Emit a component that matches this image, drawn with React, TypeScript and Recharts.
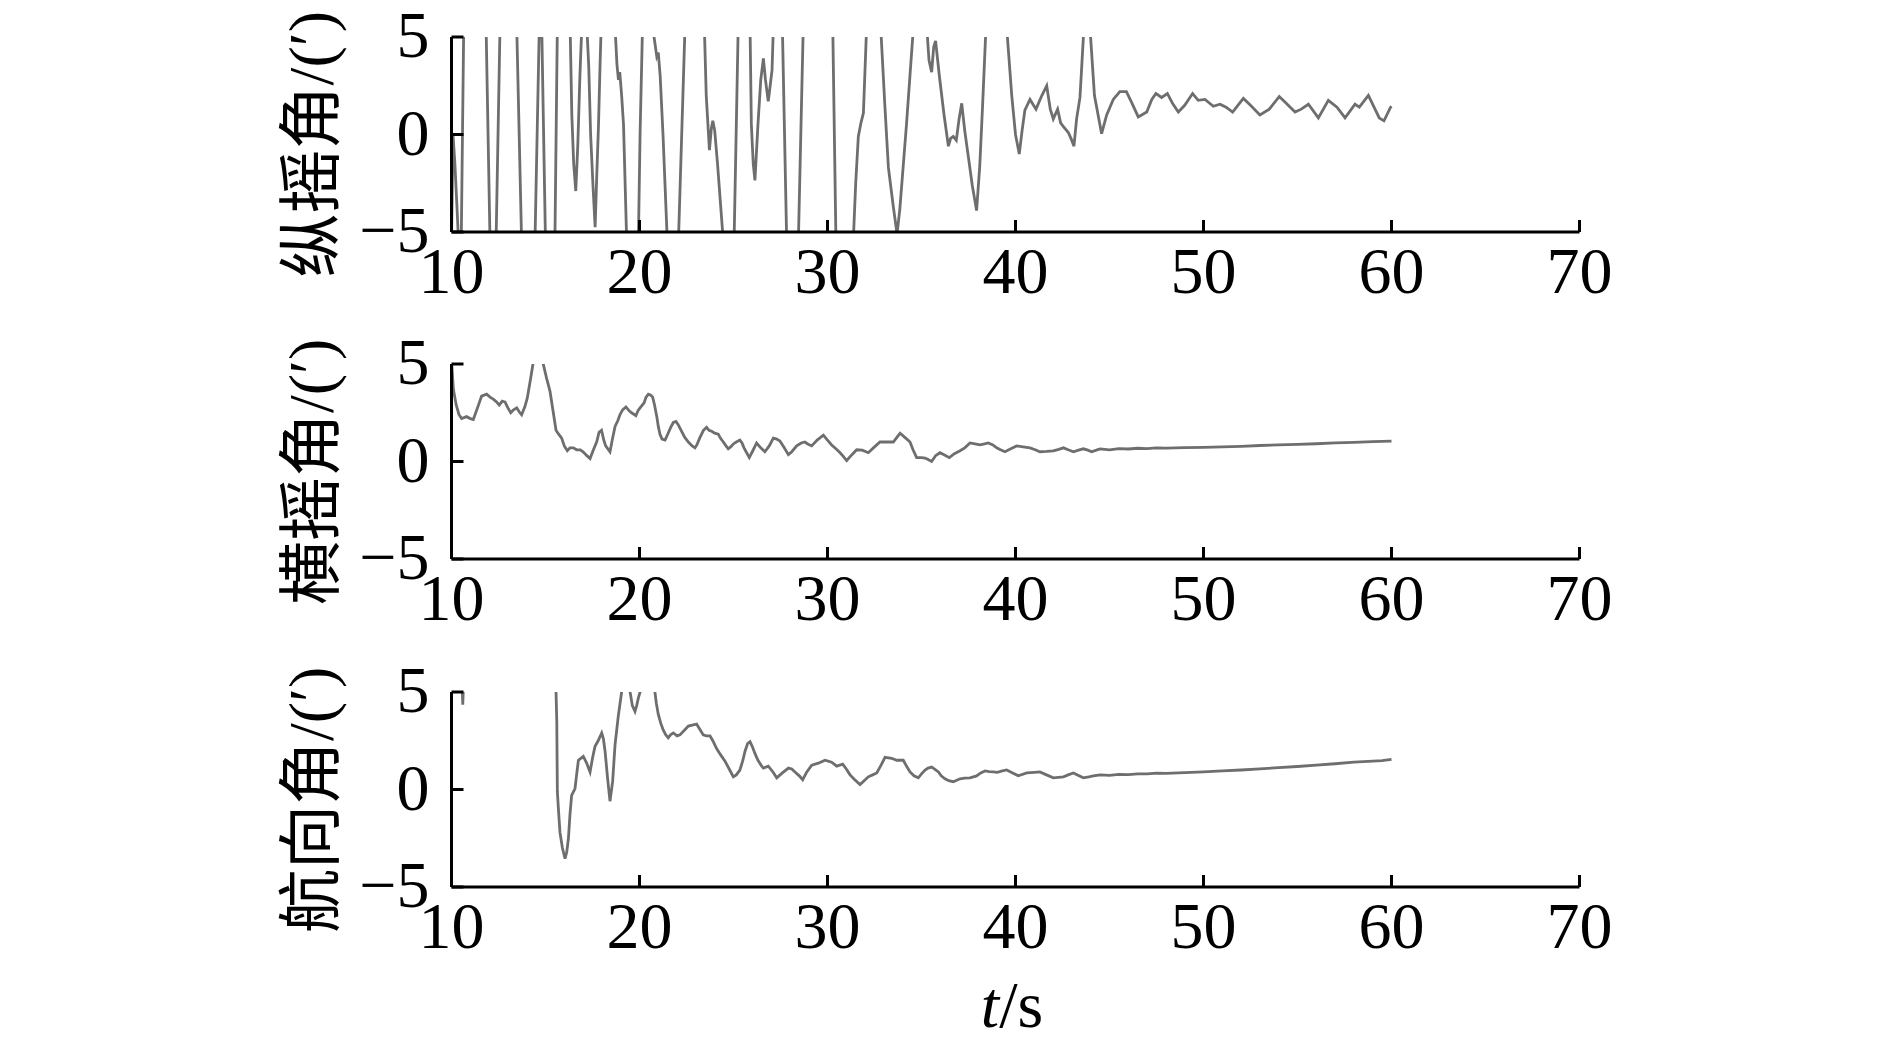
import { Line, LineChart, XAxis, YAxis } from "recharts";

const X_TICKS = [10, 20, 30, 40, 50, 60, 70];
const Y_TICKS = [-5, 0, 5];
const PANEL_TITLES = ["纵摇角/(′)", "横摇角/(′)", "航向角/(′)"];

// [t (s), angle (′)] -- values beyond ±5 are cut off by the axis
const pitchPoints: [number, number][] = [
  [10.0, -5.5], [10.08, 0], [10.18, -1.5], [10.28, -3.5], [10.4, -6], [10.5, -7], [10.65, 5.5],
  [11.2, 10], [11.84, 5.5], [12.05, -5.5], [12.2, -9], [12.37, -5.5], [12.58, 5.5], [13.0, 9],
  [13.47, 5.5], [13.73, -5.5], [14.1, -9], [14.44, -5.5], [14.67, 5.5], [14.75, 7], [14.8, 5.5],
  [15.0, -5.5], [15.25, -8], [15.5, -5.5], [15.63, 5.5], [16.0, 9], [16.31, 5.5], [16.4, 1],
  [16.5, -1.5], [16.61, -2.9], [16.72, -0.5], [16.83, 3], [16.93, 5.5], [17.05, 7], [17.2, 5.5],
  [17.3, 3.5], [17.4, 0], [17.52, -2.5], [17.64, -4.75], [17.72, -2.3], [17.82, 0.5], [17.9, 3.5],
  [17.96, 5.5], [18.3, 9], [18.7, 5.5], [18.8, 3.6], [18.88, 2.8], [18.95, 3.2], [19.05, 2.0],
  [19.15, 0.5], [19.32, -5.5], [19.6, -9], [19.94, -5.5], [20.03, 0], [20.16, 5.5], [20.4, 8],
  [20.7, 5.5], [20.92, 4.0], [21.0, 4.2], [21.1, 3.0], [21.25, 0], [21.48, -5.5], [21.7, -9],
  [22.07, -5.5], [22.42, 5.5], [22.9, 9], [23.45, 5.5], [23.55, 2], [23.72, -0.8], [23.82, 0.3],
  [23.9, 0.7], [24.0, 0.2], [24.15, -1.5], [24.46, -5.5], [24.7, -9], [25.03, -5.5], [25.25, 5.5],
  [25.55, 8], [25.88, 5.5], [25.95, 0.5], [26.05, -1.5], [26.14, -2.35], [26.3, 0.5], [26.45, 2.8],
  [26.59, 3.9], [26.7, 2.8], [26.85, 1.7], [26.95, 2.5], [27.05, 3.3], [27.12, 5.5], [27.35, 8],
  [27.6, 5.5], [27.83, -5.5], [28.1, -9], [28.45, -5.5], [28.71, 5.5], [29.5, 10], [30.28, 5.5],
  [30.45, -5.5], [30.9, -10], [31.37, -5.5], [31.5, -2.5], [31.64, -0.1], [31.78, 0.6], [31.91, 1.1],
  [32.08, 5.5], [32.45, 9], [32.83, 5.5], [33.05, 1.5], [33.24, -1.7], [33.5, -3.7], [33.7, -5.1],
  [33.85, -3.8], [34.2, 0.5], [34.57, 5.5], [34.9, 8], [35.28, 5.5], [35.4, 3.8], [35.54, 3.2],
  [35.65, 4.5], [35.75, 4.8], [35.95, 3.0], [36.2, 1.0], [36.43, -0.6], [36.55, -0.2], [36.69, -0.1],
  [36.85, -0.3], [37.0, 0.8], [37.14, 1.6], [37.3, 0.2], [37.5, -1.2], [37.7, -2.6], [37.93, -3.9],
  [38.1, -1.6], [38.25, 1.5], [38.43, 5.5], [39.0, 10], [39.53, 5.5], [39.8, 2.0], [40.0, 0.0],
  [40.2, -1.0], [40.35, 0.2], [40.5, 1.25], [40.77, 1.8], [41.09, 1.3], [41.4, 2.0], [41.66, 2.5],
  [41.85, 1.3], [42.01, 0.8], [42.24, 1.3], [42.4, 0.6], [42.55, 0.4], [42.81, 0.1], [42.95, -0.2],
  [43.11, -0.6], [43.25, 0.8], [43.43, 1.9], [43.64, 5.5], [43.8, 7], [43.96, 5.5], [44.2, 2.0],
  [44.58, 0.04], [44.85, 1.0], [45.2, 1.8], [45.55, 2.2], [45.9, 2.2], [46.2, 1.6], [46.53, 0.9],
  [46.98, 1.15], [47.25, 1.8], [47.47, 2.1], [47.77, 1.9], [48.08, 2.1], [48.35, 1.6], [48.66, 1.15],
  [49.0, 1.5], [49.42, 2.1], [49.72, 1.75], [50.08, 1.8], [50.52, 1.45], [50.88, 1.55], [51.2, 1.4],
  [51.55, 1.15], [52.12, 1.85], [52.5, 1.5], [53.0, 1.0], [53.5, 1.3], [54.03, 1.95], [54.4, 1.6],
  [54.87, 1.15], [55.2, 1.3], [55.58, 1.55], [56.11, 0.85], [56.64, 1.75], [57.1, 1.4], [57.53, 0.85],
  [58.06, 1.55], [58.29, 1.4], [58.77, 2.0], [59.35, 0.85], [59.6, 0.7], [59.95, 1.4], [60.0, 1.45],
];

const rollPoints: [number, number][] = [
  [10.0, 5.2], [10.1, 3.7], [10.25, 2.9], [10.4, 2.4], [10.54, 2.2], [10.8, 2.3], [11.0, 2.2],
  [11.16, 2.15], [11.4, 2.8], [11.6, 3.35], [11.87, 3.45], [12.05, 3.3], [12.22, 3.2], [12.4, 3.05],
  [12.54, 2.9], [12.7, 3.1], [12.85, 3.05], [13.0, 2.75], [13.15, 2.5], [13.3, 2.65], [13.47, 2.75],
  [13.6, 2.55], [13.73, 2.4], [13.9, 2.8], [14.03, 3.25], [14.2, 4.2], [14.35, 5.1], [14.6, 6.3],
  [14.88, 5.0], [15.05, 4.3], [15.24, 3.6], [15.4, 2.6], [15.56, 1.6], [15.7, 1.4], [15.86, 1.2],
  [16.0, 0.8], [16.16, 0.55], [16.3, 0.7], [16.48, 0.7], [16.66, 0.6], [16.85, 0.6], [17.0, 0.5],
  [17.2, 0.3], [17.37, 0.15], [17.55, 0.6], [17.72, 1.0], [17.85, 1.5], [17.98, 1.6], [18.1, 1.1],
  [18.2, 0.8], [18.43, 0.5], [18.55, 1.1], [18.7, 1.8], [18.85, 2.1], [18.96, 2.4], [19.1, 2.65],
  [19.28, 2.8], [19.45, 2.6], [19.58, 2.5], [19.81, 2.35], [19.92, 2.6], [20.03, 2.75], [20.24, 3.0],
  [20.35, 3.3], [20.47, 3.45], [20.6, 3.4], [20.7, 3.3], [20.8, 2.9], [20.92, 2.3], [21.0, 1.8],
  [21.09, 1.4], [21.2, 1.15], [21.36, 1.1], [21.5, 1.4], [21.66, 1.75], [21.8, 2.0], [21.94, 2.05],
  [22.05, 1.9], [22.16, 1.7], [22.4, 1.25], [22.6, 1.0], [22.8, 0.8], [22.95, 0.7], [23.05, 0.85],
  [23.2, 1.2], [23.4, 1.6], [23.57, 1.75], [23.7, 1.6], [23.84, 1.55], [24.0, 1.45], [24.19, 1.4],
  [24.3, 1.2], [24.46, 1.0], [24.6, 0.8], [24.72, 0.65], [24.85, 0.75], [24.99, 0.9], [25.15, 1.0],
  [25.34, 1.1], [25.45, 0.95], [25.56, 0.7], [25.7, 0.45], [25.84, 0.2], [26.0, 0.5], [26.23, 0.95],
  [26.45, 0.7], [26.67, 0.5], [26.9, 0.8], [27.12, 1.2], [27.3, 1.15], [27.47, 1.05], [27.7, 0.7],
  [27.92, 0.35], [28.1, 0.5], [28.36, 0.8], [28.6, 0.95], [28.8, 1.0], [28.95, 0.9], [29.16, 0.8],
  [29.45, 1.1], [29.78, 1.35], [30.0, 1.1], [30.22, 0.85], [30.45, 0.65], [30.67, 0.45], [30.85, 0.25],
  [31.02, 0.05], [31.3, 0.35], [31.55, 0.6], [31.85, 0.58], [32.17, 0.45], [32.5, 0.75], [32.79, 1.0],
  [33.15, 1.0], [33.5, 1.0], [33.7, 1.25], [33.86, 1.45], [34.1, 1.25], [34.39, 1.0], [34.55, 0.6],
  [34.74, 0.2], [35.0, 0.2], [35.19, 0.18], [35.35, 0.1], [35.54, 0.0], [35.75, 0.3], [35.98, 0.45],
  [36.2, 0.35], [36.48, 0.2], [36.75, 0.4], [37.05, 0.55], [37.3, 0.7], [37.58, 0.95], [37.85, 0.9],
  [38.11, 0.85], [38.35, 0.9], [38.55, 0.95], [38.8, 0.85], [39.0, 0.7], [39.2, 0.6], [39.44, 0.5],
  [39.75, 0.65], [40.06, 0.8], [40.4, 0.75], [40.77, 0.7], [41.05, 0.6], [41.3, 0.5], [41.65, 0.52],
  [42.01, 0.55], [42.3, 0.62], [42.55, 0.7], [42.8, 0.6], [43.08, 0.5], [43.35, 0.58], [43.61, 0.65],
  [43.85, 0.58], [44.05, 0.5], [44.3, 0.58], [44.5, 0.65], [45.0, 0.6], [45.5, 0.66], [46.0, 0.64],
  [46.5, 0.68], [47.0, 0.66], [47.5, 0.7], [48.0, 0.69], [49.0, 0.71], [50.0, 0.72], [51.0, 0.75],
  [52.0, 0.78], [53.0, 0.82], [54.0, 0.85], [55.0, 0.88], [56.0, 0.91], [57.0, 0.95], [58.0, 0.98],
  [59.0, 1.02], [60.0, 1.05],
];

const yawPoints: [number, number][] = [
  [10.0, 9], [10.3, 7], [10.56, 5.5], [10.6, 4.35], [10.64, 5.5], [11.5, 9], [13.0, 11], [14.5, 10],
  [15.3, 8], [15.56, 5.0], [15.6, 3.5], [15.63, -0.1], [15.7, -1.2], [15.77, -2.2], [15.9, -3.0],
  [16.04, -3.55], [16.13, -3.2], [16.22, -2.5], [16.3, -1.3], [16.39, -0.3], [16.57, 0.05], [16.66, 0.8],
  [16.75, 1.5], [16.88, 1.6], [17.01, 1.7], [17.19, 1.35], [17.37, 0.9], [17.5, 1.6], [17.63, 2.2],
  [17.8, 2.5], [17.99, 2.9], [18.08, 2.6], [18.17, 1.95], [18.3, 0.6], [18.43, -0.6], [18.57, 0.4],
  [18.7, 2.3], [18.87, 3.75], [19.05, 5.0], [19.25, 5.8], [19.5, 5.0], [19.62, 4.3], [19.76, 4.0],
  [19.85, 4.3], [19.94, 4.7], [20.03, 5.0], [20.4, 6.0], [20.82, 5.0], [20.9, 4.4], [21.0, 3.85],
  [21.13, 3.4], [21.26, 3.05], [21.4, 2.8], [21.53, 2.65], [21.65, 2.8], [21.8, 2.9], [22.0, 2.75],
  [22.15, 2.8], [22.4, 3.05], [22.6, 3.25], [22.8, 3.3], [23.04, 3.35], [23.2, 3.1], [23.39, 2.8],
  [23.55, 2.75], [23.75, 2.75], [23.9, 2.5], [24.1, 2.1], [24.3, 1.8], [24.55, 1.45], [24.8, 1.0],
  [24.99, 0.65], [25.15, 0.75], [25.34, 1.0], [25.5, 1.5], [25.61, 1.95], [25.75, 2.35], [25.88, 2.45],
  [26.0, 2.2], [26.14, 1.85], [26.3, 1.5], [26.5, 1.2], [26.59, 1.1], [26.85, 1.2], [27.1, 0.9],
  [27.3, 0.6], [27.6, 0.85], [27.92, 1.1], [28.1, 1.05], [28.27, 0.9], [28.5, 0.7], [28.68, 0.5],
  [28.9, 0.9], [29.16, 1.25], [29.51, 1.35], [29.87, 1.5], [30.22, 1.4], [30.49, 1.2], [30.81, 1.3],
  [31.0, 1.05], [31.2, 0.75], [31.45, 0.5], [31.73, 0.25], [31.95, 0.45], [32.17, 0.65], [32.4, 0.75],
  [32.62, 0.85], [32.85, 1.25], [33.06, 1.65], [33.41, 1.6], [33.68, 1.5], [34.03, 1.5], [34.2, 1.2],
  [34.39, 0.9], [34.6, 0.7], [34.83, 0.6], [35.0, 0.8], [35.19, 1.0], [35.35, 1.1], [35.54, 1.15],
  [35.7, 1.05], [35.9, 0.9], [36.05, 0.7], [36.25, 0.55], [36.45, 0.45], [36.69, 0.4], [37.05, 0.55],
  [37.3, 0.58], [37.58, 0.6], [37.93, 0.7], [38.15, 0.85], [38.38, 0.95], [38.6, 0.92], [38.82, 0.9],
  [39.03, 0.88], [39.3, 0.95], [39.53, 1.0], [39.85, 0.85], [40.15, 0.7], [40.6, 0.85], [41.0, 0.88],
  [41.3, 0.9], [41.65, 0.75], [42.01, 0.6], [42.55, 0.65], [42.8, 0.75], [43.08, 0.85], [43.35, 0.72],
  [43.61, 0.6], [43.9, 0.65], [44.14, 0.7], [44.5, 0.75], [45.0, 0.72], [45.5, 0.78], [46.0, 0.76],
  [46.5, 0.8], [47.0, 0.8], [47.5, 0.84], [48.0, 0.83], [49.0, 0.87], [50.0, 0.9], [51.0, 0.95],
  [52.0, 1.0], [53.0, 1.06], [54.0, 1.12], [55.0, 1.18], [56.0, 1.25], [57.0, 1.32], [58.0, 1.4],
  [59.0, 1.45], [59.5, 1.48], [60.0, 1.55],
];

const SERIES = [pitchPoints, rollPoints, yawPoints];
const PLOT_TOPS = [36.7, 364.3, 692.3];
const TOP_PAD = 60;

const FONT = "'Liberation Serif', 'Times New Roman', 'Noto Sans CJK SC', serif";
const LINE_COLOR = "#6e6e6e";

const fmt = (v: number) => (v < 0 ? `\u2212${Math.abs(v)}` : String(v));

const XTick = (props: any) => {
  const { x, y, payload } = props;
  return (
    <g>
      <line x1={x} y1={y} x2={x} y2={y - 12} stroke="#000" strokeWidth={3} />
      <text x={x} y={y + 61} textAnchor="middle" fontSize={66} fontFamily={FONT} fill="#000">
        {payload.value}
      </text>
    </g>
  );
};

const YTick = (props: any) => {
  const { x, y, payload } = props;
  return (
    <g>
      <line x1={x} y1={y} x2={x + 12} y2={y} stroke="#000" strokeWidth={3} />
      <text x={x - 22} y={y + 20} textAnchor="end" fontSize={66} fontFamily={FONT} fill="#000">
        {fmt(payload.value)}
      </text>
    </g>
  );
};

function Panel({ points, top }: { points: [number, number][]; top: number }) {
  const data = points.map(([t, v]) => ({ t, v }));
  return (
    <div style={{ position: "absolute", left: 0, top: top - TOP_PAD }}>
      <LineChart
        width={1680}
        height={TOP_PAD + 195 + 70 + 8}
        data={data}
        margin={{ top: TOP_PAD, right: 100.5, bottom: 8, left: 371.5 }}
      >
        <XAxis
          type="number"
          dataKey="t"
          domain={[10, 70]}
          ticks={X_TICKS}
          interval={0}
          height={70}
          tickSize={0}
          tickMargin={0}
          tickLine={false}
          axisLine={{ stroke: "#000", strokeWidth: 3 }}
          tick={XTick}
        />
        <YAxis
          type="number"
          domain={[-5, 5]}
          ticks={Y_TICKS}
          allowDataOverflow
          width={80}
          tickSize={0}
          tickMargin={0}
          tickLine={false}
          axisLine={{ stroke: "#000", strokeWidth: 3 }}
          tick={YTick}
        />
        <Line
          type="linear"
          dataKey="v"
          stroke={LINE_COLOR}
          strokeWidth={2.8}
          dot={false}
          activeDot={false}
          isAnimationActive={false}
        />
      </LineChart>
    </div>
  );
}

export default function App() {
  return (
    <div
      style={{
        position: "absolute",
        left: 0,
        top: 0,
        width: 1890,
        height: 1052,
        background: "#fff",
        overflow: "hidden",
      }}
    >
      {SERIES.map((points, i) => (
        <Panel key={i} points={points} top={PLOT_TOPS[i]} />
      ))}
      <svg
        width={1890}
        height={1052}
        style={{ position: "absolute", left: 0, top: 0, pointerEvents: "none" }}
      >
        {PANEL_TITLES.map((title, i) => (
          <text
            key={title}
            transform={`translate(311, ${PLOT_TOPS[i] + 97.5 + 10}) rotate(-90)`}
            textAnchor="middle"
            dominantBaseline="central"
            fontSize={64}
            fontFamily={FONT}
            fill="#000"
          >
            {title}
          </text>
        ))}
        <text x={1012} y={1027} textAnchor="middle" fontSize={66} fontFamily={FONT} fill="#000">
          <tspan fontStyle="italic">t</tspan>/s
        </text>
      </svg>
    </div>
  );
}
